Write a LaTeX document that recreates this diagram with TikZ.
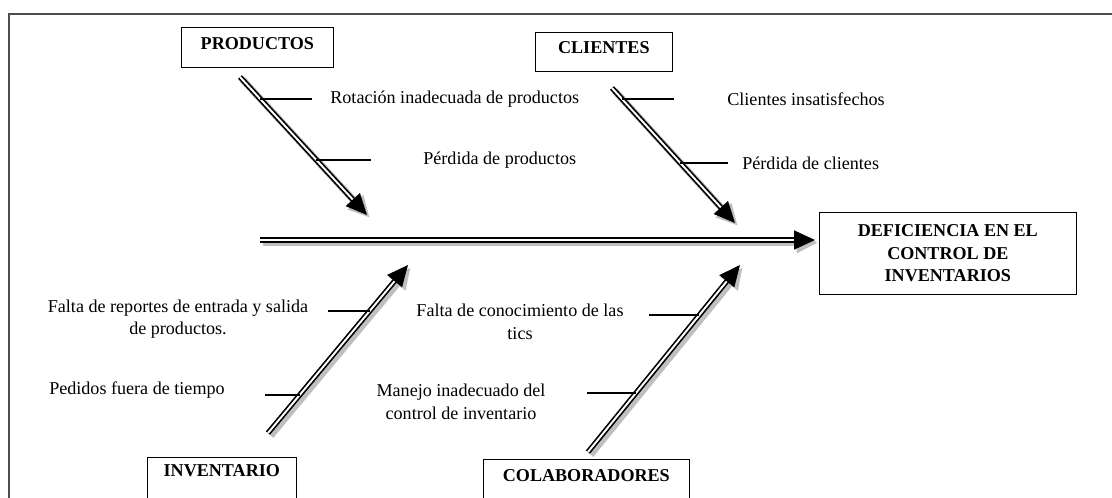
\documentclass[tikz,border=0pt]{standalone}
\usepackage{fontspec}
\setmainfont{Liberation Serif}
\usetikzlibrary{positioning,arrows.meta}

\tikzset{
  every node/.style={font=\fontsize{10.3}{12.8}\selectfont},
  catbox/.style={draw,font=\fontsize{10.3}{12.8}\selectfont\bfseries,inner sep=0pt,anchor=north west},
  cause/.style={inner sep=0pt,align=center},
  bone/.style={double,line width=0.95pt,double distance=1.1pt,-{Triangle[length=0.42cm,width=0.38cm]}},
  boneshadow/.style={black!25,line width=4pt,-{Triangle[length=0.42cm,width=0.4cm]},transform canvas={shift={(1.5pt,-1.5pt)}}},
  twig/.style={line width=1.5pt},
}
\newcommand\bonearrow[2]{\draw [boneshadow] (#1) -- (#2); \draw [bone] (#1) -- (#2);}

\begin{document}
\begin{tikzpicture}[x=0.02cm,y=-0.02cm]
  \useasboundingbox (0,0) rectangle (1112,497);
  \clip (0,0) rectangle (1112,497);
  \draw [black!70,line width=0.6pt] (9,14) rectangle (1140,540);

  % Effect
  \node [catbox,minimum width=5.14cm,minimum height=1.64cm,align=center] (effect) at (819,212) {DEFICIENCIA EN EL\\CONTROL DE\\INVENTARIOS};
  \node [coordinate] (s0) at (260,240) {};
  \node [coordinate] (s1) at (815,240) {};
  \bonearrow{s0}{s1}

  % Productos
  \node [catbox,minimum width=3.04cm,text height=0.44cm,text depth=0.36cm] (prod) at (181,27) {PRODUCTOS};
  \node [coordinate] (p0) at (240,77) {};
  \node [coordinate] (p1) at (367,215) {};
  \bonearrow{p0}{p1}
  \node [coordinate] (pa1) at (260,99) {};
  \node [coordinate] (pa2) at (312,99) {};
  \draw [twig] (pa1) -- (pa2);
  \node [cause,right=0.36cm of pa2] (pa) {Rotación inadecuada de productos};
  \node [coordinate] (pb1) at (316,160) {};
  \node [coordinate] (pb2) at (371,160) {};
  \draw [twig] (pb1) -- (pb2);
  \node [cause,right=1.04cm of pb2] (pb) {Pérdida de productos};

  % Clientes
  \node [catbox,minimum width=2.74cm,text height=0.416cm,text depth=0.364cm] (cli) at (535,32) {CLIENTES};
  \node [coordinate] (c0) at (612,88) {};
  \node [coordinate] (c1) at (735,223) {};
  \bonearrow{c0}{c1}
  \node [coordinate] (ca1) at (622,99) {};
  \node [coordinate] (ca2) at (674,99) {};
  \draw [twig] (ca1) -- (ca2);
  \node [cause,right=1.06cm of ca2] (ca) {Clientes insatisfechos};
  \node [coordinate] (cb1) at (680,163) {};
  \node [coordinate] (cb2) at (728,163) {};
  \draw [twig] (cb1) -- (cb2);
  \node [cause,right=0.28cm of cb2] (cb) {Pérdida de clientes};

  % Inventario
  \node [catbox,minimum width=2.98cm,text height=0.376cm,text depth=0.824cm] (inv) at (147,457) {INVENTARIO};
  \node [coordinate] (i0) at (268,433) {};
  \node [coordinate] (i1) at (408,265) {};
  \bonearrow{i0}{i1}
  \node [coordinate] (ia1) at (370,311) {};
  \node [coordinate] (ia2) at (328,311) {};
  \draw [twig] (ia1) -- (ia2);
  \node [cause] (ia) at (178,319) {Falta de reportes de entrada y salida\\de productos.};
  \node [coordinate] (ib1) at (300,395) {};
  \node [coordinate] (ib2) at (265,395) {};
  \draw [twig] (ib1) -- (ib2);
  \node [cause,left=0.8cm of ib2,yshift=0.1cm] (ib) {Pedidos fuera de tiempo};

  % Colaboradores
  \node [catbox,minimum width=4.12cm,text height=0.436cm,text depth=0.764cm] (col) at (483,459) {COLABORADORES};
  \node [coordinate] (k0) at (588,452) {};
  \node [coordinate] (k1) at (740,265) {};
  \bonearrow{k0}{k1}
  \node [coordinate] (ka1) at (699,315) {};
  \node [coordinate] (ka2) at (649,315) {};
  \draw [twig] (ka1) -- (ka2);
  \node [cause] (ka) at (520,322) {Falta de conocimiento de las\\tics};
  \node [coordinate] (kb1) at (636,393) {};
  \node [coordinate] (kb2) at (587,393) {};
  \draw [twig] (kb1) -- (kb2);
  \node [cause] (kb) at (461,402) {Manejo inadecuado del\\control de inventario};

\end{tikzpicture}
\end{document}
